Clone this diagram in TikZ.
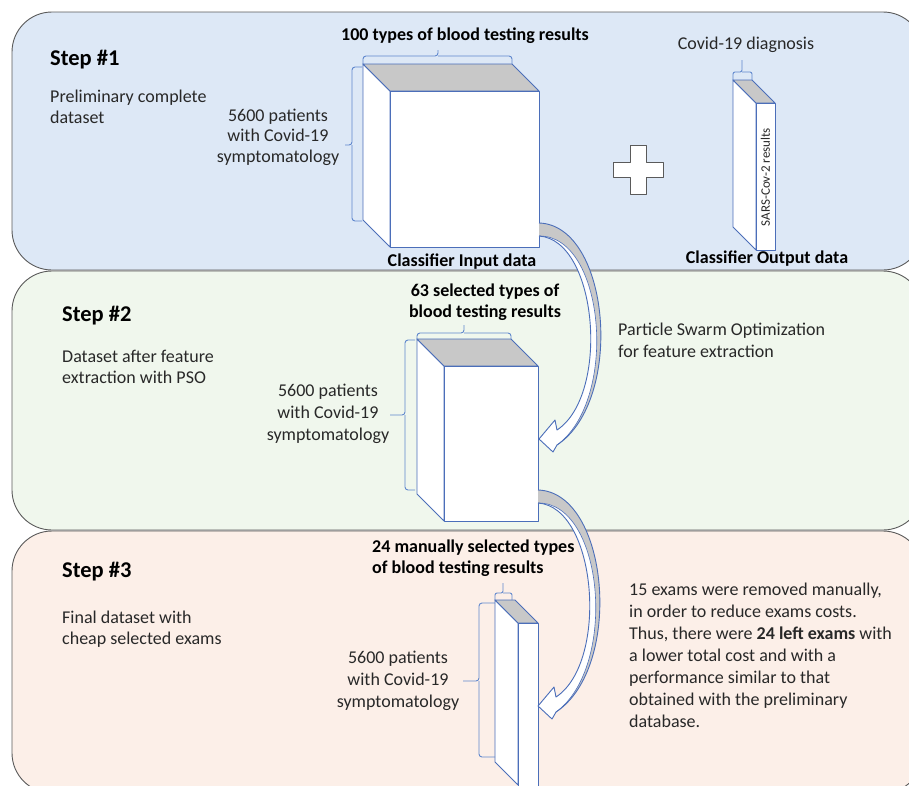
\documentclass[tikz,border=0pt]{standalone}
\usepackage{fontspec}
\setmainfont{Carlito}
\definecolor{pone}{RGB}{221,232,246}
\definecolor{ptwo}{RGB}{240,247,237}
\definecolor{pthree}{RGB}{252,239,232}
\definecolor{pborder}{RGB}{90,90,90}
\definecolor{cubeline}{RGB}{75,110,185}
\definecolor{braceblue}{RGB}{95,135,205}
\definecolor{topgray}{RGB}{200,200,200}
\definecolor{txtcol}{RGB}{40,40,40}
\begin{document}
\begin{tikzpicture}[x=1pt,y=-1pt,line join=round,
  panel/.style={draw=pborder, line width=0.9pt, rounded corners=40pt},
  cubeedge/.style={draw=cubeline, line width=0.9pt},
  bracepath/.style={draw=braceblue, line width=0.9pt, rounded corners=3pt},
  txt/.style={text=txtcol, inner sep=0pt, font=\fontsize{18}{20.5}\selectfont},
  bigtxt/.style={text=txtcol, inner sep=0pt, font=\fontsize{18}{22}\selectfont},
  boldtxt/.style={text=black, inner sep=0pt, font=\fontsize{18}{21}\selectfont\bfseries},
  head/.style={text=black, inner sep=0pt, font=\fontsize{22.5}{26}\selectfont\bfseries},
  curvarrow/.pic={
    \path[fill=topgray] (0,0) .. controls (71,2) and (86,177) .. (18,222) .. controls (80,177) and (66,12) .. (0,13) -- cycle;
    \path[fill=white] (0,13) .. controls (59,17) and (71,172) .. (18,207) -- (16,197) -- (0,216) -- (14,229) -- (18,222) .. controls (80,177) and (66,12) .. (0,13) -- cycle;
    \draw[cubeedge] (0,0) .. controls (71,2) and (86,177) .. (18,222) -- (14,229) -- (0,216) -- (16,197) -- (18,207) .. controls (71,172) and (59,17) .. (0,13);
    \draw[cubeedge, line width=0.6pt] (0,13) .. controls (66,12) and (80,177) .. (18,222);
  }]
\useasboundingbox (0,0) rectangle (909,785);
\begin{scope}
\clip (0,0) rectangle (909,785);
% panels
\path[panel, fill=pone] (12,12) rectangle (923,270);
\path[panel, fill=ptwo] (12,271) rectangle (923,530);
\path[panel, fill=pthree] (12,531) rectangle (923,793);

% step labels
\node[head, anchor=west] (s1) at (50,60) {Step \#1};
\node[txt, anchor=west, align=left] (s1d) at (50,107) {Preliminary complete\\dataset};
\node[head, anchor=west] (s2) at (62,316) {Step \#2};
\node[txt, anchor=west, align=left] (s2d) at (62,367) {Dataset after feature\\extraction with PSO};
\node[head, anchor=west] (s3) at (62,572) {Step \#3};
\node[txt, anchor=west, align=left] (s3d) at (62,629) {Final dataset with\\cheap selected exams};

% cube 1 (classifier input)
\path[cubeedge, fill=white] (363,64) -- (390,91) -- (390,247) -- (363,220) -- cycle;
\path[cubeedge, fill=topgray] (363,64) -- (512,64) -- (539,91) -- (390,91) -- cycle;
\path[cubeedge, fill=white] (390,91) rectangle (539,247);
\coordinate (c1r) at (539,223);
\draw[bracepath] (363,64) |- (438,56) -- (438,50);
\draw[bracepath] (438,56) -| (512,64);
\draw[bracepath] (362,67) -| (352,145) -- (345,145);
\draw[bracepath] (352,145) |- (362,221);
\node[boldtxt] (l100) at (465,36) {100 types of blood testing results};
\node[txt, align=center] (p1) at (278,137) {5600 patients\\with Covid-19\\symptomatology};
\node[boldtxt] (cin) at (462,262) {Classifier Input data};

% plus sign
\path[draw=pborder, line width=1pt, fill=white] (630,145) -- (646,145) -- (646,162) -- (663,162) -- (663,177) -- (646,177) -- (646,194) -- (630,194) -- (630,177) -- (613,177) -- (613,162) -- (630,162) -- cycle;

% cube 2 (classifier output)
\path[cubeedge, fill=white] (733,80) -- (756,103) -- (756,250) -- (733,227) -- cycle;
\path[cubeedge, fill=topgray] (733,80) -- (752,80) -- (775,103) -- (756,103) -- cycle;
\path[cubeedge, fill=white] (756,103) rectangle (775,250);
\node[text=txtcol, inner sep=0pt, font=\fontsize{13}{15}\selectfont, rotate=90] (sars) at (765.5,177) {SARS-Cov-2 results};
\draw[bracepath, rounded corners=2pt] (733,80) |- (742,72) -- (742,60);
\draw[bracepath, rounded corners=2pt] (742,72) -| (752,80);
\node[txt] (diag) at (746,45) {Covid-19 diagnosis};
\node[boldtxt] (cout) at (767,259) {Classifier Output data};

% cube 3 (step 2)
\path[cubeedge, fill=white] (417,339) -- (444,366) -- (444,521) -- (417,494) -- cycle;
\path[cubeedge, fill=topgray] (417,339) -- (511,339) -- (538,366) -- (444,366) -- cycle;
\path[cubeedge, fill=white] (444,366) rectangle (538,521);
\coordinate (c3r) at (538,490);
\draw[bracepath] (417,339) |- (464,333) -- (464,325);
\draw[bracepath] (464,333) -| (511,339);
\draw[bracepath] (415,340) -| (405,415) -- (390,415);
\draw[bracepath] (405,415) |- (415,490);
\node[boldtxt, align=center] (l63) at (485,302) {63 selected types of\\blood testing results};
\node[bigtxt, align=center] (p2) at (328,414) {5600 patients\\with Covid-19\\symptomatology};
\node[bigtxt, anchor=west, align=left] (pso) at (618,340) {Particle Swarm Optimization\\for feature extraction};

% cube 4 (step 3)
\path[cubeedge, fill=white] (495,600) -- (518,623) -- (518,785) -- (495,762) -- cycle;
\path[cubeedge, fill=topgray] (495,600) -- (515,600) -- (538,623) -- (518,623) -- cycle;
\path[cubeedge, fill=white] (518,623) rectangle (538,800);
\draw[bracepath, rounded corners=2pt] (495,600) |- (503,593) -- (503,583);
\draw[bracepath, rounded corners=2pt] (503,593) -| (512,600);
\draw[bracepath] (495,603) -| (479,681) -- (463,681);
\draw[bracepath] (479,681) |- (495,757);
\node[boldtxt, anchor=west, align=left] (l24) at (372,558) {24 manually selected types\\of blood testing results};
\node[bigtxt, align=center] (p3) at (398,681) {5600 patients\\with Covid-19\\symptomatology};
\node[bigtxt, anchor=west, align=left] (note) at (629,655) {15 exams were removed manually,\\in order to reduce exams costs.\\Thus, there were \textbf{24 left exams} with\\a lower total cost and with a\\performance similar to that\\obtained with the preliminary\\database.};

% curved arrows
\pic at (c1r) {curvarrow};
\pic at (c3r) {curvarrow};
\end{scope}
\end{tikzpicture}
\end{document}
